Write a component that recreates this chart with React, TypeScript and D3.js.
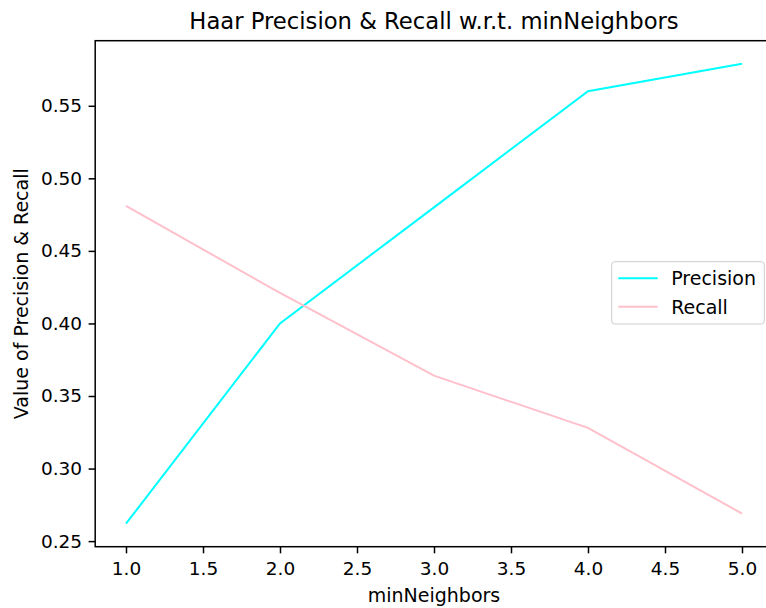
import React, { useEffect, useRef } from "react";
import * as d3 from "d3";

// data
const neighbors = [1, 2, 3, 4, 5];
const precision = [0.262, 0.4, 0.48, 0.56, 0.579];
const recall = [0.481, 0.421, 0.364, 0.328, 0.269];
const xTicks = [1.0, 1.5, 2.0, 2.5, 3.0, 3.5, 4.0, 4.5, 5.0];
const yTicks = [0.25, 0.3, 0.35, 0.4, 0.45, 0.5, 0.55];

const seriesNames = ["Precision", "Recall"];
const colors = { Precision: "#00ffff", Recall: "#ffc0cb" };

const W = 766;
const H = 608;
const FONT = "'DejaVu Sans', sans-serif";

function App() {
  const svgRef = useRef(null);

  useEffect(() => {
    const svg = d3.select(svgRef.current);
    svg.selectAll("*").remove();

    const left = 95.2, right = 772.8, top = 40.7, bottom = 546.7;

    // matplotlib-style 5% margins
    const xMin = d3.min(neighbors), xMax = d3.max(neighbors);
    const xPad = (xMax - xMin) * 0.05;
    const all = precision.concat(recall);
    const yMin = d3.min(all), yMax = d3.max(all);
    const yPad = (yMax - yMin) * 0.05;

    const x = d3.scaleLinear().domain([xMin - xPad, xMax + xPad]).range([left, right]);
    const y = d3.scaleLinear().domain([yMin - yPad, yMax + yPad]).range([bottom, top]);

    // lines
    const line = d3.line().x(d => x(d[0])).y(d => y(d[1]));
    const series = [
      { key: "Precision", values: neighbors.map((n, i) => [n, precision[i]]) },
      { key: "Recall", values: neighbors.map((n, i) => [n, recall[i]]) },
    ];
    svg.selectAll(".series")
      .data(series)
      .join("path")
      .attr("class", "series")
      .attr("d", d => line(d.values))
      .attr("fill", "none")
      .attr("stroke", d => colors[d.key])
      .attr("stroke-width", 2);

    // axes
    const xAxis = d3.axisBottom(x).tickValues(xTicks).tickFormat(d3.format(".1f"))
      .tickSize(6.6).tickPadding(8.5).tickSizeOuter(0);
    const gx = svg.append("g").attr("transform", `translate(0,${bottom})`).call(xAxis);
    gx.select(".domain").remove();
    gx.selectAll("line").attr("stroke", "#000").attr("stroke-width", 1.5);
    gx.selectAll("text").attr("font-family", FONT).attr("font-size", 18.5).attr("fill", "#000");

    const yAxis = d3.axisLeft(y).tickValues(yTicks).tickFormat(d3.format(".2f"))
      .tickSize(6.6).tickPadding(6.5).tickSizeOuter(0);
    const gy = svg.append("g").attr("transform", `translate(${left},0)`).call(yAxis);
    gy.select(".domain").remove();
    gy.selectAll("line").attr("stroke", "#000").attr("stroke-width", 1.5);
    gy.selectAll("text").attr("font-family", FONT).attr("font-size", 18.5).attr("fill", "#000");

    // spines
    svg.append("rect")
      .attr("x", left).attr("y", top)
      .attr("width", right - left).attr("height", bottom - top)
      .attr("fill", "none").attr("stroke", "#000").attr("stroke-width", 1.5);

    // title and labels
    svg.append("text")
      .attr("x", (left + right) / 2).attr("y", 29)
      .attr("text-anchor", "middle")
      .attr("font-family", FONT).attr("font-size", 22.7)
      .text("Haar Precision & Recall w.r.t. minNeighbors");

    svg.append("text")
      .attr("x", (left + right) / 2).attr("y", 602)
      .attr("text-anchor", "middle")
      .attr("font-family", FONT).attr("font-size", 19)
      .text("minNeighbors");

    svg.append("text")
      .attr("transform", `translate(28,${(top + bottom) / 2}) rotate(-90)`)
      .attr("text-anchor", "middle")
      .attr("font-family", FONT).attr("font-size", 19)
      .text("Value of Precision & Recall");

    // legend
    const lg = svg.append("g").attr("transform", "translate(611.7,261.7)");
    lg.append("rect")
      .attr("width", 152.6).attr("height", 62.3).attr("rx", 3)
      .attr("fill", "#fff").attr("fill-opacity", 0.8)
      .attr("stroke", "#cccccc").attr("stroke-width", 1);
    const items = lg.selectAll(".item")
      .data(seriesNames)
      .join("g")
      .attr("class", "item")
      .attr("transform", (d, i) => `translate(0,${16.6 + i * 28.4})`);
    items.append("line")
      .attr("x1", 6.6).attr("x2", 46)
      .attr("stroke", d => colors[d]).attr("stroke-width", 2);
    items.append("text")
      .attr("x", 59.5).attr("y", 6.8)
      .attr("font-family", FONT).attr("font-size", 19)
      .text(d => d);
  }, []);

  return (
    <svg ref={svgRef} width={W} height={H}
      style={{ position: "absolute", left: 0, top: 0, background: "#fff" }} />
  );
}

export default App;
